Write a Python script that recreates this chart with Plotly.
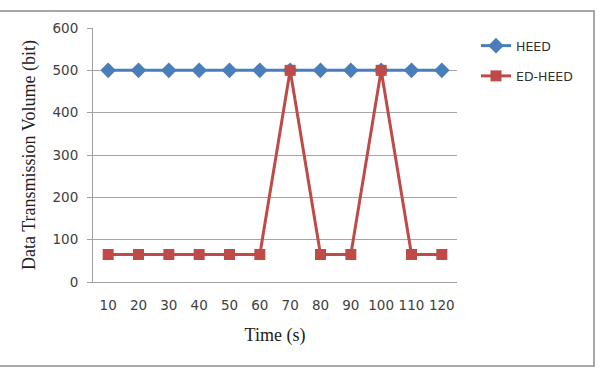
import plotly.graph_objects as go

times = ["10", "20", "30", "40", "50", "60", "70", "80", "90", "100", "110", "120"]
heed = [500] * 12
ed_heed = [65, 65, 65, 65, 65, 65, 500, 65, 65, 500, 65, 65]

L, R, T, B = 93, 144, 28, 86
W, H = 601, 368
pw, ph = W - L - R, H - T - B

def px(x):
    return (x - L) / pw

def py(y):
    return (H - B - y) / ph

serif = "Liberation Serif, Times New Roman, serif"
sans = "DejaVu Sans, Verdana, sans-serif"

fig = go.Figure()
fig.add_trace(go.Scatter(x=times, y=heed, name="HEED", mode="lines+markers",
                         line=dict(color="#4A7EBB", width=3),
                         marker=dict(symbol="diamond", size=12, color="#4A7EBB"),
                         legendgroup="a"))
fig.add_trace(go.Scatter(x=times, y=ed_heed, name="ED-HEED", mode="lines+markers",
                         line=dict(color="#BE4B48", width=3),
                         marker=dict(symbol="square", size=11, color="#BE4B48"),
                         legendgroup="b"))

fig.update_layout(
    width=W, height=H,
    margin=dict(l=L, r=R, t=T, b=B),
    paper_bgcolor="white", plot_bgcolor="white",
    font=dict(family=sans, size=13, color="#404040"),
    showlegend=True,
    legend=dict(x=px(476), y=py(31), xanchor="left", yanchor="top",
                font=dict(size=12.5, color="#303030"), tracegroupgap=11,
                bgcolor="rgba(0,0,0,0)", itemwidth=30),
    xaxis=dict(type="category", range=[-0.5, 11.5], showgrid=False, showline=True,
               linecolor="#A0A0A0", linewidth=1, ticks="", tickfont=dict(size=13.5),
               zeroline=False, ticklabelstandoff=11,
               title=dict(text="Time (s)", font=dict(family=serif, size=18, color="#202020"), standoff=16)),
    yaxis=dict(range=[0, 600], dtick=100, showgrid=True, gridcolor="#A6A6A6", gridwidth=1,
               showline=True, linecolor="#A0A0A0", ticks="outside", ticklen=5, tickcolor="#A0A0A0",
               tickfont=dict(size=13.5), zeroline=False, ticklabelstandoff=6,
               title=dict(text="Data Transmission Volume (bit)", font=dict(family=serif, size=18, color="#202020"), standoff=12)),
    shapes=[dict(type="rect", xref="paper", yref="paper",
                 x0=px(-2), x1=px(594), y0=py(366), y1=py(11),
                 line=dict(color="#8C8C8C", width=1.5), layer="below")],
)

fig.write_html("out.html")
